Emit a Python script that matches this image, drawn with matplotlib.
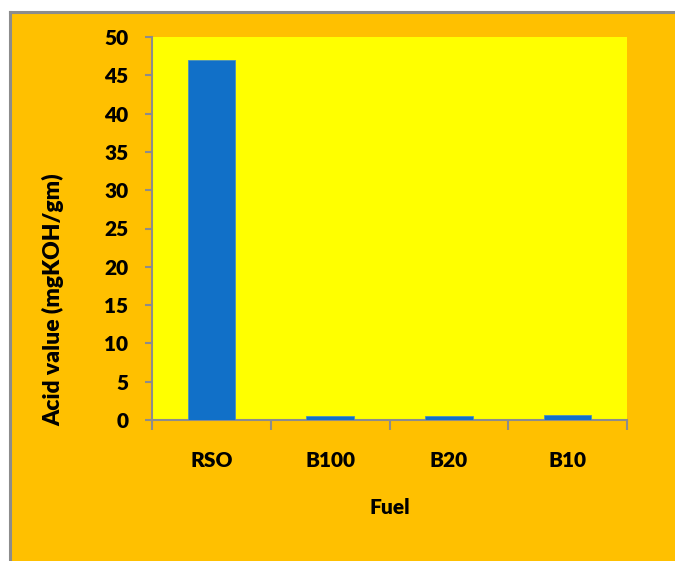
import matplotlib
matplotlib.use("Agg")
import matplotlib.pyplot as plt
from matplotlib.patches import Rectangle
from matplotlib.lines import Line2D
import numpy as np

categories = ["RSO", "B100", "B20", "B10"]
acid_values = [47.0, 0.5, 0.5, 0.6]
y_ticks = [0, 5, 10, 15, 20, 25, 30, 35, 40, 45, 50]

plt.rcParams['font.family'] = ['Lato', 'DejaVu Sans']
WEIGHT = "heavy"
FS = 15

W, H = 675, 561
fig = plt.figure(figsize=(W / 100, H / 100), dpi=100)
fig.patch.set_facecolor("white")

# chart area background with grey frame on left and top
x0, y0 = 10 / W, 1 - 12 / H
fig.patches.append(Rectangle((x0, 0), 1.2 - x0, y0, transform=fig.transFigure,
                             facecolor="#FFC000", edgecolor="none", zorder=-10))
fig.lines.append(Line2D([x0, x0], [0, y0], transform=fig.transFigure, color="#8C8C8C", lw=2.2, zorder=-9))
fig.lines.append(Line2D([x0, 1], [y0, y0], transform=fig.transFigure, color="#8C8C8C", lw=2.2, zorder=-9))

ax = fig.add_axes([152 / W, 1 - 420 / H, (627 - 152) / W, (420 - 37) / H])
ax.set_facecolor("#FFFF00")
x = np.arange(len(categories))
ax.bar(x, acid_values, width=0.4, color="#1170C8", edgecolor="#4a90c0", linewidth=0.6, zorder=3)

ax.set_xlim(-0.5, len(categories) - 0.5)
ax.set_ylim(0, 50)
ax.set_yticks(y_ticks)
ax.set_yticklabels([str(v) for v in y_ticks], fontsize=FS, fontweight=WEIGHT)
ax.set_xticks(x)
ax.set_xticklabels(categories, fontsize=FS, fontweight=WEIGHT)
ax.tick_params(axis="x", length=0, pad=22)
ax.set_xticks(np.arange(-0.5, len(categories)), minor=True)
ax.tick_params(axis="x", which="minor", length=7, width=1.5, color="#8C8C8C", direction="out")
ax.tick_params(axis="y", length=5, width=1.5, color="#8C8C8C", direction="out", pad=12)

for side in ["top", "right"]:
    ax.spines[side].set_visible(False)
for side in ["left", "bottom"]:
    ax.spines[side].set_color("#8C8C8C")
    ax.spines[side].set_linewidth(1.5)

fig.text(389.5 / W, 1 - 507 / H, "Fuel", fontsize=FS, fontweight=WEIGHT, ha="center", va="center")
fig.text(53 / W, 1 - 300 / H, "Acid value (mgKOH/gm)", fontsize=16.5, fontweight=WEIGHT,
         ha="center", va="center", rotation=90)

fig.savefig("out.png", dpi=100, facecolor=fig.get_facecolor())
